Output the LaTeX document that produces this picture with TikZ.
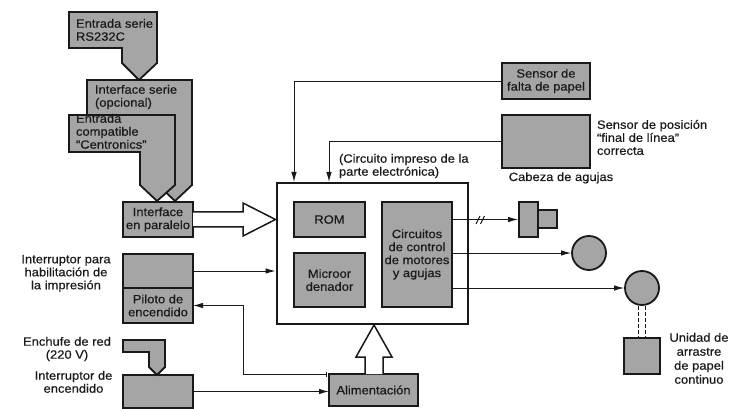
\documentclass[tikz,border=0pt]{standalone}
\usepackage{fontspec}
\setmainfont[FakeStretch=1.08,FakeBold=0.35]{Liberation Sans}
\usetikzlibrary{arrows.meta}
\definecolor{gbox}{RGB}{165,165,165}
\definecolor{ink}{RGB}{25,25,25}
\begin{document}
\begin{tikzpicture}[x=1pt,y=-1pt,
  txt/.style={inner sep=0pt, outer sep=0pt, text=ink, font=\fontsize{12}{13}\selectfont},
  box/.style={txt, draw=ink, fill=gbox, line width=1.8pt, align=center},
  lbl/.style={txt, align=center},
  lbll/.style={txt, align=left},
  conn/.style={draw=ink, line width=1pt},
  arr/.style={conn, -{Latex[length=10pt,width=5.5pt]}},
  gshape/.style={draw=ink, fill=gbox, line width=1.8pt, line join=miter},
  hollow/.style={draw=ink, fill=white, line width=1.5pt, line join=miter}]
\useasboundingbox (0,0) rectangle (737,409);
\fill[white] (0,0) rectangle (737,409);

% --- input connectors (shapes) ---
\draw[gshape] (69,12) -- (157,12) -- (157,63) -- (139,80) -- (122,63) -- (122,48) -- (69,48) -- cycle;
\node[lbll, anchor=north west] (rs) at (76,19) {Entrada serie\\RS232C};
\draw[gshape] (87,80) -- (192,80) -- (192,185) -- (175,201) -- (158,185) -- (158,152) -- (87,152) -- cycle;
\node[lbll, anchor=north west] (serie) at (95,85) {Interface serie\\(opcional)};
\draw[gshape] (69,115) -- (175,115) -- (175,185) -- (157,201) -- (140,185) -- (140,152) -- (69,152) -- cycle;
\node[lbll, anchor=north west] (centr) at (76,114) {Entrada\\compatible\\``Centronics''};

% --- left boxes ---
\node[box, minimum width=70pt, minimum height=35pt] (paral) at (158,219.5) {Interface\\en paralelo};
\node[box, minimum width=70pt, minimum height=34pt] (habil) at (158,271) {};
\node[box, minimum width=70pt, minimum height=35pt] (piloto) at (158,305.5) {Piloto de\\encendido};
\node[box, minimum width=70pt, minimum height=33pt] (encend) at (158,391.5) {};
\draw[gshape] (123,340) -- (165,340) -- (165,367) -- (157,375) -- (149,367) -- (149,352) -- (123,352) -- cycle;

\node[lbl, anchor=north] (lhabil) at (66,255) {Interruptor para\\habilitación de\\la impresión};
\node[lbl, anchor=north] (lench) at (67,337) {Enchufe de red\\(220 V)};
\node[lbl, anchor=north] (lenc) at (73.5,371) {Interruptor de\\encendido};

% --- main board ---
\node[draw=ink, fill=white, line width=2.8pt, minimum width=191pt, minimum height=141pt, inner sep=0pt] (main) at (372.5,253.5) {};
\node[box, minimum width=71pt, minimum height=35pt] (rom) at (329.5,219.5) {ROM};
\node[box, minimum width=71pt, minimum height=54pt] (micro) at (329.5,280) {Microor\\denador};
\node[box, minimum width=70pt, minimum height=105pt] (circ) at (417,254.5) {Circuitos\\de control\\de motores\\y agujas};
\node[lbll, anchor=north west] (lmain) at (339,154) {(Circuito impreso de la\\parte electrónica)};

% --- power ---
\node[box, minimum width=89pt, minimum height=32pt] (alim) at (373.5,390) {Alimentación};
\draw[hollow] (365,374) -- (365,357) -- (356,357) -- (374,325) -- (392,357) -- (383,357) -- (383,374);

% hollow arrow parallel -> main
\draw[hollow] (193,212) -- (243,212) -- (243,203) -- (275.5,219.5) -- (243,236) -- (243,227) -- (193,227);

% --- sensors ---
\node[box, minimum width=88pt, minimum height=36pt] (sfalta) at (546,81) {Sensor de\\falta de papel};
\node[box, minimum width=88pt, minimum height=53pt] (spos) at (546,141.5) {};
\node[lbll, anchor=north west] (lspos) at (597,120) {Sensor de posición\\``final de línea''\\correcta};
\coordinate (t1) at (294,182);
\coordinate (t2) at (329,182);
\draw[arr] (sfalta.west |- 0,82) -| (t1);
\draw[arr] (spos.west |- 0,142) -| (t2);

% --- actuators ---
\node[draw=ink, fill=gbox, line width=1.8pt, minimum width=19pt, minimum height=18pt, inner sep=0pt] (cabsm) at (547.5,219) {};
\node[draw=ink, fill=gbox, line width=1.8pt, minimum width=19pt, minimum height=35pt, inner sep=0pt] (cab) at (528.5,219.5) {};
\node[lbl, anchor=base] (lcab) at (561,181) {Cabeza de agujas};
\node[circle, draw=ink, fill=gbox, line width=1.8pt, minimum size=34pt, inner sep=0pt] (m1) at (589,253) {};
\node[circle, draw=ink, fill=gbox, line width=1.8pt, minimum size=34pt, inner sep=0pt] (m2) at (642,288) {};
\node[draw=ink, fill=gbox, line width=1.8pt, minimum width=36pt, minimum height=36pt, inner sep=0pt] (unidad) at (642,356) {};
\node[lbl, anchor=north, font=\fontsize{12}{14}\selectfont] (lunid) at (699,333) {Unidad de\\arrastre\\de papel\\continuo};

\draw[arr] (circ.east |- cab.west) -- (cab.west);
\draw[conn] (476,224) -- (480,216) (480.5,224) -- (484.5,216);
\draw[arr] (circ.east |- m1.west) -- (m1.west);
\draw[arr] (circ.east |- m2.west) -- (m2.west);
\draw[conn, dash pattern=on 4pt off 2pt] ([xshift=-3.5pt]m2.south) -- ([xshift=-3.5pt]unidad.north);
\draw[conn, dash pattern=on 4pt off 2pt] ([xshift=3.5pt]m2.south) -- ([xshift=3.5pt]unidad.north);

% --- left connectors ---
\draw[arr] (habil.east) -- (habil.east -| main.west);
\coordinate (pstart) at (327,374.5);
\coordinate (pbend) at (243,374.5);
\draw[conn, {Bar[width=5pt,line width=1pt]}-{Latex[length=10pt,width=5.5pt]}] (pstart) -- (pbend) |- (piloto.east);
\draw[arr] (encend.east) -- (encend.east -| alim.west);
\end{tikzpicture}
\end{document}
